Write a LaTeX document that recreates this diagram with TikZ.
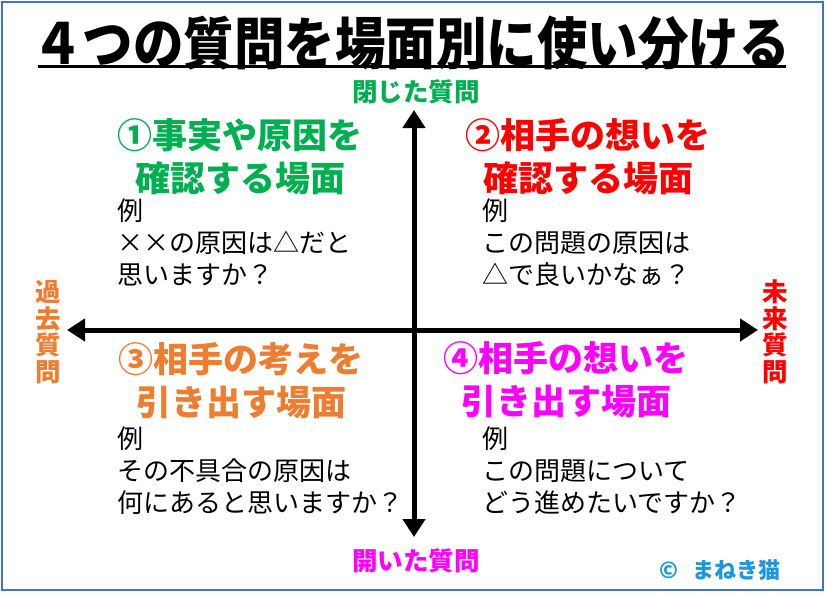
\documentclass[tikz,border=0pt]{standalone}
\usepackage{fontspec}
\setmainfont{Noto Sans CJK JP}
\usetikzlibrary{arrows.meta, positioning}

\definecolor{qgreen}{RGB}{0,176,80}
\definecolor{qred}{RGB}{255,0,0}
\definecolor{qorange}{RGB}{237,125,49}
\definecolor{qmagenta}{RGB}{255,0,255}
\definecolor{qblue}{RGB}{30,150,220}
\definecolor{frameblue}{RGB}{68,114,196}

\begin{document}
\begin{tikzpicture}[
  x=1pt, y=-1pt,
  dirarrow/.style = {line width=5pt, -{Triangle[length=18pt, width=22pt]}},
  header/.style   = {font=\bfseries\fontsize{35}{43}\selectfont, align=center, inner sep=0pt},
  example/.style  = {font=\fontsize{26}{32}\selectfont, align=left, anchor=north west, inner sep=0pt},
  axislabel/.style= {font=\bfseries\fontsize{25.5}{26.5}\selectfont, align=center, inner sep=0pt},
]

%── Frame ─────────────────────────────────────────────────────────────────────
\useasboundingbox (0,0) rectangle (827,594);
\draw[frameblue, line width=2pt] (2,2) rectangle (823,590);

%── Title ─────────────────────────────────────────────────────────────────────
\node[font=\bfseries\fontsize{50.5}{58}\selectfont, inner sep=0pt] (title) at (411,43)
  {\scalebox{1}[1.12]{４つの質問を場面別に使い分ける}};
\coordinate (ulL) at (38,67);
\coordinate (ulR) at (786,67);
\draw[line width=3pt] (ulL) -- (ulR);

%── Axes ──────────────────────────────────────────────────────────────────────
\coordinate (cross)  at (414,330);
\coordinate (closed) at (414,110);
\coordinate (open)   at (414,537);
\coordinate (past)   at (67,330);
\coordinate (future) at (758,330);

\draw[dirarrow] (cross) -- (closed);
\draw[dirarrow] (cross) -- (open);
\draw[dirarrow] (cross) -- (past);
\draw[dirarrow] (cross) -- (future);

%── Axis labels ───────────────────────────────────────────────────────────────
\node[axislabel, text=qgreen]   (lclosed) at (416,92)  {閉じた質問};
\node[axislabel, text=qmagenta] (lopen)   at (416,561) {開いた質問};
\node[axislabel, text=qorange]  (lpast)   at (48,332)  {過\\去\\質\\問};
\node[axislabel, text=qred]     (lfuture) at (775,332) {未\\来\\質\\問};

%── Quadrant headers ──────────────────────────────────────────────────────────
\node[header, text=qgreen]   (h1) at (240,157) {①事実や原因を\\確認する場面};
\node[header, text=qred]     (h2) at (588,157) {②相手の想いを\\確認する場面};
\node[header, text=qorange]  (h3) at (241,381) {③相手の考えを\\引き出す場面};
\node[header, text=qmagenta] (h4) at (566,380) {④相手の想いを\\引き出す場面};

%── Examples ──────────────────────────────────────────────────────────────────
\node[example] (e1) at (117,199) {例\\××の原因は△だと\\思いますか？};
\node[example] (e2) at (482,199) {例\\この問題の原因は\\△で良いかなぁ？};
\node[example] (e3) at (117,427) {例\\その不具合の原因は\\何にあると思いますか？};
\node[example] (e4) at (482,427) {例\\この問題について\\どう進めたいですか？};

%── Credit ────────────────────────────────────────────────────────────────────
\node[font=\bfseries\fontsize{22}{24}\selectfont, text=qblue, inner sep=0pt] (credit) at (720,570)
  {©\hspace{14pt}まねき猫};

\end{tikzpicture}
\end{document}
